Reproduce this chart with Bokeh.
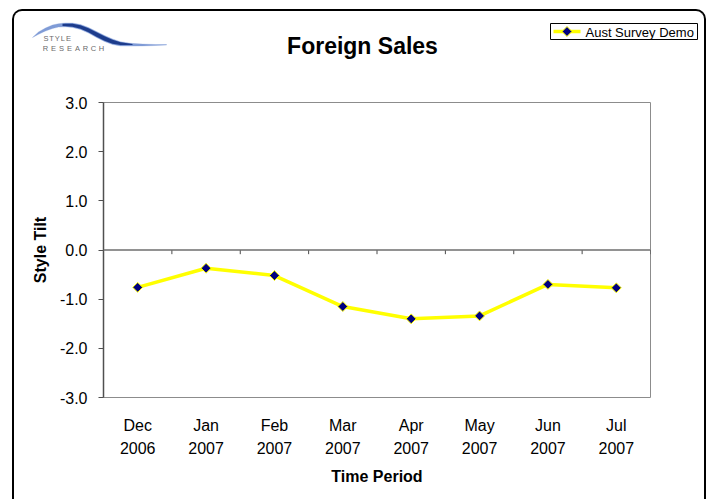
import math
from bokeh.plotting import figure
from bokeh.layouts import column
from bokeh.models import FactorRange, Range1d, FixedTicker, Span, PrintfTickFormatter
from bokeh.core.properties import value
from bokeh.embed import file_html
from bokeh.resources import INLINE

# ---- data ----
months = ["Dec", "Jan", "Feb", "Mar", "Apr", "May", "Jun", "Jul"]
years = ["2006", "2007", "2007", "2007", "2007", "2007", "2007", "2007"]
style_tilt = [-0.76, -0.37, -0.52, -1.15, -1.40, -1.34, -0.70, -0.77]
y_ticks = [-3, -2, -1, 0, 1, 2, 3]
title_text = "Foreign Sales"
series_name = "Aust Survey Demo"
x_title = "Time Period"
y_title = "Style Tilt"
logo_top = "STYLE"
logo_bottom = "RESEARCH"

factors = [f"{m}\n{y}" for m, y in zip(months, years)]

FONT = "Liberation Sans"
LINE_COLOR = "#FFFF00"
MARK_COLOR = "#000080"

# box geometry (page pixels)
BOX_L, BOX_T, BORDER = 12, 9, 2
IN_L, IN_T = BOX_L + BORDER, BOX_T + BORDER     # 14, 11
IN_W = 690
HEAD_B = 80                                       # bottom of header strip
IN_B = 499
FL, FR, FT, FB = 103, 650, 102, 397               # plot frame edges

# ---------------- header (title, logo, legend) ----------------
head = figure(width=IN_W, height=HEAD_B - IN_T,
              x_range=Range1d(IN_L, IN_L + IN_W), y_range=Range1d(HEAD_B, IN_T),
              output_backend="svg", toolbar_location=None,
              x_axis_location=None, y_axis_location=None,
              min_border=0, min_border_left=0, min_border_right=0,
              min_border_top=0, min_border_bottom=0)
head.frame_align = False
head.outline_line_color = None
head.background_fill_color = None
head.border_fill_color = None
head.xgrid.visible = False
head.ygrid.visible = False

head.text(x=[362], y=[45], text=[title_text], text_align="center",
          text_baseline="middle", text_font=value(FONT), text_font_size="23px",
          text_font_style="bold", text_color="black")

# logo swoosh
upper = [(32, 37), (38, 31.5), (45, 27.5), (52, 24.5), (58, 23.2), (65, 22.5), (72, 22.6),
         (80, 24), (88, 27), (96, 31), (104, 35), (112, 38.5), (120, 41.2), (130, 42.8),
         (142, 43.6), (155, 44), (166, 44)]
lower = [(166, 44.6), (155, 45), (142, 45.4), (130, 45.6), (120, 45.4), (112, 44),
         (104, 41), (96, 37), (88, 32.5), (80, 29), (72, 27), (65, 26.3), (58, 26.6),
         (52, 28), (45, 30.5), (38, 33.8)]
pts = upper + lower
head.patch([a for a, b in pts], [b for a, b in pts], fill_color="#7f9bd6",
           line_color="#7f9bd6", line_alpha=0.6, line_width=0.5)
core_u = [(62, 23.3), (72, 23.2), (80, 24.8), (88, 27.8), (96, 31.8), (104, 35.8),
          (112, 39.2), (120, 41.8), (132, 43.4)]
core_l = [(132, 44.6), (120, 44.6), (112, 43.2), (104, 40.2), (96, 36.2), (88, 31.8),
          (80, 28.2), (72, 26.2), (62, 25.6)]
cp = core_u + core_l
head.patch([a for a, b in cp], [b for a, b in cp], fill_color="#1d3c8c", line_color=None)

head.text(x=[45.5 + i * 5.6 for i in range(len(logo_top))], y=[38] * len(logo_top),
          text=list(logo_top), text_align="center", text_baseline="middle",
          text_font=value(FONT), text_font_size="7.5px", text_color="#6a6a6a")
head.text(x=[45 + i * 8.0 for i in range(len(logo_bottom))], y=[48] * len(logo_bottom),
          text=list(logo_bottom), text_align="center", text_baseline="middle",
          text_font=value(FONT), text_font_size="7.5px", text_color="#6a6a6a")

# legend box (sample glyphs take the series styles)
head.quad(left=[550], right=[697], top=[23], bottom=[39], fill_color="white",
          line_color="black", line_width=1)
head.line(x=[553, 580], y=[31, 31], line_color=LINE_COLOR, line_width=3.5)
head.scatter(x=[566.5], y=[31], marker="square", angle=math.pi / 4, size=7,
             fill_color=MARK_COLOR, line_color=LINE_COLOR, line_width=1)
head.text(x=[585], y=[31.5], text=[series_name], text_align="left",
          text_baseline="middle", text_font=value(FONT), text_font_size="13px",
          text_color="black")

# ---------------- main chart ----------------
p = figure(width=IN_W, height=IN_B - HEAD_B,
           x_range=FactorRange(factors=factors, range_padding=0),
           y_range=Range1d(-3, 3),
           output_backend="svg", toolbar_location=None,
           min_border_left=FL - IN_L, min_border_right=IN_L + IN_W - FR,
           min_border_top=FT - HEAD_B, min_border_bottom=IN_B - FB)
p.frame_align = False
p.background_fill_color = "white"
p.border_fill_color = None
p.outline_line_color = "#8c8c8c"
p.outline_line_width = 1
p.xgrid.visible = False
p.ygrid.visible = False

xa = p.xaxis[0]
xa.axis_line_color = None
xa.major_tick_line_color = None
xa.minor_tick_line_color = None
xa.major_tick_out = 0
xa.major_tick_in = 0
xa.major_label_standoff = 19
xa.major_label_text_font = FONT
xa.major_label_text_font_size = "16px"
xa.major_label_text_color = "black"
xa.major_label_text_line_height = 1.4
xa.axis_label = x_title
xa.axis_label_text_font = FONT
xa.axis_label_text_font_size = "16px"
xa.axis_label_text_font_style = "bold"
xa.axis_label_text_color = "black"
xa.axis_label_standoff = 8

ya = p.yaxis[0]
ya.ticker = FixedTicker(ticks=y_ticks, minor_ticks=[])
ya.formatter = PrintfTickFormatter(format="%.1f")
ya.axis_line_color = "#505050"
ya.axis_line_width = 1.5
ya.major_tick_line_color = "#505050"
ya.major_tick_out = 5
ya.major_tick_in = 0
ya.minor_tick_out = 0
ya.minor_tick_in = 0
ya.major_label_standoff = 11
ya.major_label_text_font = FONT
ya.major_label_text_font_size = "16px"
ya.major_label_text_color = "black"
ya.axis_label = y_title
ya.axis_label_text_font = FONT
ya.axis_label_text_font_size = "16px"
ya.axis_label_text_font_style = "bold"
ya.axis_label_text_color = "black"
ya.axis_label_standoff = 8

p.add_layout(Span(location=0, dimension="width", line_color="#6e6e6e", line_width=1.5))
bounds = list(range(1, len(factors) + 1))
p.segment(x0=bounds, y0=[0] * len(bounds), x1=bounds, y1=[-0.085] * len(bounds),
          line_color="#4a4a4a", line_width=1)

p.line(factors, style_tilt, line_color=LINE_COLOR, line_width=3.5)
p.scatter(factors, style_tilt, marker="square", angle=math.pi / 4, size=7,
          fill_color=MARK_COLOR, line_color=LINE_COLOR, line_width=1)

layout = column(head, p, spacing=0,
                margin=(BOX_T, 0, 0, BOX_L),
                styles={"border-top": f"{BORDER}px solid black",
                        "border-left": f"{BORDER}px solid black",
                        "border-right": f"{BORDER}px solid black",
                        "border-bottom": "0px",
                        "border-radius": "10px 10px 0 0",
                        "background": "white"})

open("out.html", "w").write(file_html(layout, INLINE))
